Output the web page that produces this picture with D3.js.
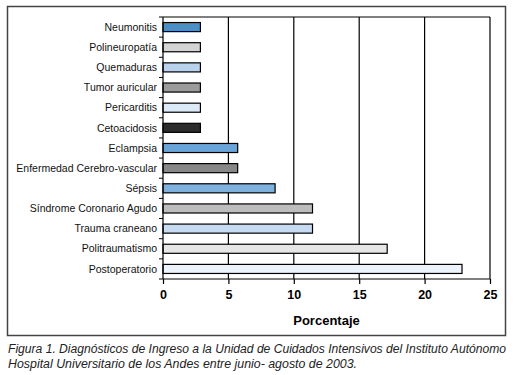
<!DOCTYPE html>
<html>
<head>
<meta charset="utf-8">
<script src="https://cdn.jsdelivr.net/npm/d3@7"></script>
<style>
  body { margin: 0; background: #fff; }
  svg { display: block; }
</style>
</head>
<body>
<div id="chart"></div>
<script>
// Données
const diagnosticos = ["Neumonitis", "Polineuropatía", "Quemaduras", "Tumor auricular", "Pericarditis",
  "Cetoacidosis", "Eclampsia", "Enfermedad Cerebro-vascular", "Sépsis", "Síndrome Coronario Agudo",
  "Trauma craneano", "Politraumatismo", "Postoperatorio"];
const porcentajes = [2.86, 2.86, 2.86, 2.86, 2.86, 2.86, 5.71, 5.71, 8.57, 11.43, 11.43, 17.14, 22.86];
const colores = ["#4b8fc6", "#d3d3d3", "#b9d1ea", "#9b9b9b", "#dceaf7", "#2b2b2b", "#6aa5d9",
  "#878787", "#7fb1df", "#bdbdbd", "#c6dbf1", "#e6e6e6", "#edf3fa"];
const ticksX = [0, 5, 10, 15, 20, 25];

const W = 515, H = 375;
const margin = { top: 17, right: 25, bottom: 96, left: 163 };
const width = W - margin.left - margin.right,
      height = H - margin.top - margin.bottom;

const svg = d3.select("#chart").append("svg")
    .attr("width", W)
    .attr("height", H)
    .style("font-family", "Arial, 'Liberation Sans', sans-serif");

// cadre
svg.append("rect")
    .attr("x", 7.5).attr("y", 6.5)
    .attr("width", 498).attr("height", 329)
    .attr("fill", "none")
    .attr("stroke", "#444")
    .attr("stroke-width", 1.5);

const g = svg.append("g")
    .attr("transform", "translate(" + margin.left + "," + margin.top + ")");

const x = d3.scaleLinear().domain([0, 25]).range([0, width]);
const y = d3.scaleBand().domain(diagnosticos).range([0, height]).paddingInner(0.55).paddingOuter(0.275);

// grille
g.selectAll(".grid")
    .data(ticksX.slice(1))
    .enter()
    .append("line")
    .attr("x1", d => x(d)).attr("x2", d => x(d))
    .attr("y1", 0).attr("y2", height)
    .attr("stroke", "#000")
    .attr("stroke-width", 1.2);

g.append("line")
    .attr("x1", 0).attr("x2", width)
    .attr("y1", 0).attr("y2", 0)
    .attr("stroke", "#000")
    .attr("stroke-width", 1.2);

// barres
g.selectAll(".bar")
    .data(diagnosticos)
    .enter()
    .append("rect")
    .attr("x", 0)
    .attr("y", d => y(d))
    .attr("width", (d, i) => x(porcentajes[i]))
    .attr("height", y.bandwidth())
    .attr("fill", (d, i) => colores[i])
    .attr("stroke", "#000")
    .attr("stroke-width", 1.2);

// axe X
const axeX = d3.axisBottom(x).tickValues(ticksX).tickSize(5).tickPadding(6);
const gx = g.append("g")
    .attr("transform", "translate(0," + height + ")")
    .call(axeX);
gx.selectAll("text").style("font-size", "12.5px").style("font-weight", "bold").attr("fill", "#000");
gx.selectAll("line, path").attr("stroke", "#000").attr("stroke-width", 1.2);
gx.select(".domain").attr("d", "M0,0H" + width);

// axe Y
const bornes = d3.range(diagnosticos.length + 1).map(i => i * height / diagnosticos.length);
const gy = g.append("g");
gy.append("line")
    .attr("x1", 0).attr("x2", 0).attr("y1", 0).attr("y2", height)
    .attr("stroke", "#000").attr("stroke-width", 1.2);
gy.selectAll(".tk")
    .data(bornes)
    .enter()
    .append("line")
    .attr("x1", -4).attr("x2", 0)
    .attr("y1", d => d).attr("y2", d => d)
    .attr("stroke", "#000");
gy.selectAll(".lbl")
    .data(diagnosticos)
    .enter()
    .append("text")
    .attr("x", -6)
    .attr("y", d => y(d) + y.bandwidth() / 2)
    .attr("dy", "0.35em")
    .attr("text-anchor", "end")
    .style("font-size", "10.5px")
    .attr("fill", "#111")
    .text(d => d);

// titre axe
svg.append("text")
    .attr("x", margin.left + width / 2)
    .attr("y", 325)
    .attr("text-anchor", "middle")
    .style("font-size", "13px")
    .style("font-weight", "bold")
    .text("Porcentaje");

// légende figure
const legende = svg.append("text")
    .style("font-size", "12px")
    .style("font-style", "italic")
    .attr("fill", "#222");
legende.append("tspan").attr("x", 8).attr("y", 353)
    .attr("textLength", 498).attr("lengthAdjust", "spacingAndGlyphs")
    .text("Figura 1. Diagnósticos de Ingreso a la Unidad de Cuidados Intensivos del Instituto Autónomo");
legende.append("tspan").attr("x", 8).attr("y", 368)
    .attr("textLength", 349).attr("lengthAdjust", "spacingAndGlyphs")
    .text("Hospital Universitario de los Andes entre junio- agosto de 2003.");
</script>
</body>
</html>
